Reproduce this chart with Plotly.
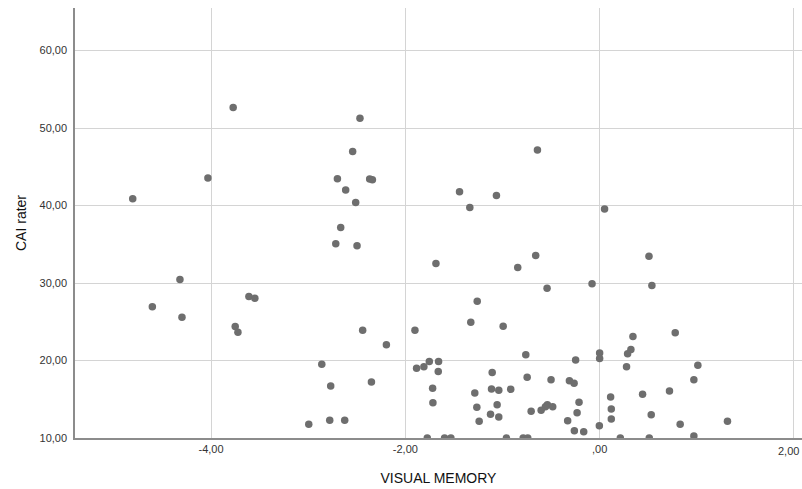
import plotly.graph_objects as go

visual_memory = [
    -4.806, -4.032, -3.772,
    -4.320, -4.604, -4.299, -3.751, -3.723, -3.610, -3.549,
    -2.467, -2.542, -2.699, -2.367, -2.339, -2.614, -2.511, -1.442, -1.062, -1.336,
    -2.665, -2.716, -2.497,
    -1.685, -0.843, -1.260, -1.326, -0.993, -2.439, -1.901, -2.195, -0.760,
    -2.860, -1.753, -1.658, -1.884, -1.809, -1.661, -1.106, -0.746,
    -2.768, -2.349, -1.719, -1.285, -1.113, -1.038, -0.915,
    -1.716, -1.264, -1.055, -1.123, -1.038, -1.240,
    -2.994, -2.778, -2.624,
    -1.774, -1.596, -1.531, -0.959, -0.787, -0.740,
    -0.640, 0.051,
    -0.658, 0.508, -0.541, -0.078, 0.538,
    0.778, 0.343, 0.322, 0.288, 0.000, 0.000, -0.247, 0.277, 1.011,
    0.970, -0.500, -0.311, -0.263, 0.113, 0.442, 0.719,
    -0.212, -0.538, -0.558, -0.483, -0.602, -0.705, -0.232, 0.120, 0.120, 0.531,
    -0.329, 1.316, 0.829, -0.003, -0.260, -0.164,
    0.213, 0.511, 0.970,
]
cai_rater = [
    40.88, 43.55, 52.67,
    30.45, 26.93, 25.59, 24.38, 23.65, 28.26, 28.05,
    51.26, 46.99, 43.46, 43.42, 43.33, 42.00, 40.40, 41.78, 41.31, 39.76,
    37.17, 35.06, 34.81,
    32.52, 32.00, 27.66, 24.95, 24.43, 23.91, 23.91, 22.02, 20.76,
    19.52, 19.86, 19.86, 19.00, 19.21, 18.57, 18.44, 17.84,
    16.72, 17.24, 16.42, 15.81, 16.33, 16.16, 16.29,
    14.56, 13.97, 14.30, 13.06, 12.71, 12.16,
    11.77, 12.29, 12.29,
    10.00, 10.00, 10.00, 10.00, 10.00, 10.00,
    47.17, 39.55,
    33.55, 33.47, 29.34, 29.90, 29.68,
    23.60, 23.09, 21.41, 20.89, 20.98, 20.25, 20.08, 19.21, 19.39,
    17.53, 17.53, 17.40, 17.07, 15.30, 15.64, 16.07,
    14.61, 14.30, 14.04, 14.04, 13.58, 13.45, 13.27, 13.75, 12.45, 13.01,
    12.24, 12.16, 11.77, 11.59, 10.94, 10.82,
    10.00, 10.00, 10.26,
]

x_tickvals = [-4, -2, 0, 2]
x_ticktext = ["-4,00", "-2,00", ",00", "2,00"]
y_tickvals = [10, 20, 30, 40, 50, 60]
y_ticktext = ["10,00", "20,00", "30,00", "40,00", "50,00", "60,00"]

fig = go.Figure()
fig.add_trace(go.Scatter(
    x=visual_memory, y=cai_rater, mode="markers",
    marker=dict(size=7.5, color="#6e6e6e", line=dict(width=0)),
    cliponaxis=True, showlegend=False,
))

# last x tick label sits at the right edge; keep it fully inside the page
fig.add_annotation(
    x=1, y=0, xref="paper", yref="paper",
    text=x_ticktext[-1], showarrow=False,
    xanchor="right", yanchor="top", yshift=-5, xshift=-1,
    font=dict(size=11, color="#333333"),
)

fig.update_layout(
    width=802, height=489,
    margin=dict(l=75, r=0, t=8, b=51),
    paper_bgcolor="white", plot_bgcolor="white",
    font=dict(family="Liberation Sans, Arial, sans-serif", color="#333333", size=11),
    xaxis=dict(
        range=[-5.40, 2.083], tickvals=x_tickvals, ticktext=x_ticktext,
        showgrid=True, gridcolor="#d4d4d4", gridwidth=1, zeroline=False,
        showline=True, linecolor="#8c8c8c", linewidth=1.5, ticks="",
        title=dict(text="VISUAL MEMORY", font=dict(size=14, color="#111111"), standoff=19),
        tickfont=dict(size=11, color="#333333"),
    ),
    yaxis=dict(
        range=[10, 65.5], tickvals=y_tickvals, ticktext=y_ticktext,
        showgrid=True, gridcolor="#d4d4d4", gridwidth=1, zeroline=False,
        showline=True, linecolor="#8c8c8c", linewidth=1.5, ticks="",
        title=dict(text="CAI rater", font=dict(size=14, color="#111111"), standoff=10),
        tickfont=dict(size=11, color="#333333"),
        ticklabelstandoff=4,
    ),
)

fig.write_html("out.html")
